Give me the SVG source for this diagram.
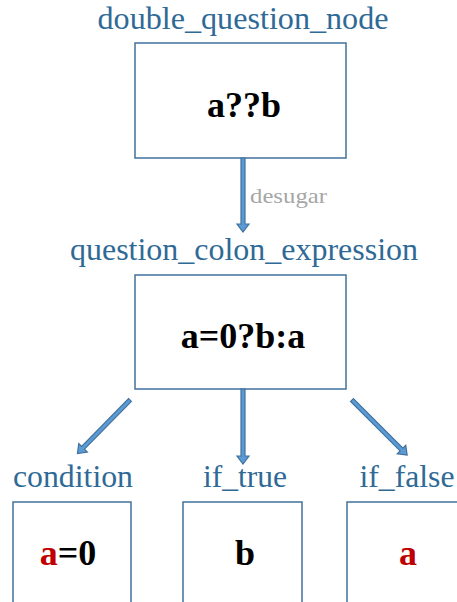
<svg xmlns="http://www.w3.org/2000/svg" width="457" height="602" viewBox="0 0 457 602">
<style>
text{font-family:'Liberation Serif',serif}
.title{font-size:32px;fill:#2f6a96;text-anchor:middle}
.code{font-size:36px;font-weight:bold;fill:#000;text-anchor:middle}
.red{fill:#c00000}
.box{fill:#fff;stroke:#41719c;stroke-width:1.5}
.arrow{fill:#5b9bd5;stroke:#41719c;stroke-width:1.2;stroke-linejoin:miter}
.lbl{font-size:21px;fill:#a6a6a6}
</style>
<rect width="457" height="602" fill="#fff"/>
<g id="double_question_node">
<text class="title" font-family="Liberation Serif" x="243" y="29" textLength="291" lengthAdjust="spacingAndGlyphs">double_question_node</text>
<rect class="box" x="135" y="43" width="211" height="115"/>
<text class="code" font-family="Liberation Serif" x="244" y="117">a??b</text>
</g>
<g id="question_colon_expression">
<text class="title" font-family="Liberation Serif" x="244" y="260" textLength="348" lengthAdjust="spacingAndGlyphs">question_colon_expression</text>
<rect class="box" x="135" y="275" width="211" height="114"/>
<text class="code" font-family="Liberation Serif" x="243" y="348">a=0?b:a</text>
</g>
<g id="condition">
<text class="title" font-family="Liberation Serif" x="73" y="487" textLength="120" lengthAdjust="spacingAndGlyphs">condition</text>
<rect class="box" x="13" y="502" width="118" height="130"/>
<text class="code" font-family="Liberation Serif" x="68" y="565"><tspan class="red">a</tspan>=0</text>
</g>
<g id="if_true">
<text class="title" font-family="Liberation Serif" x="245" y="487" textLength="84" lengthAdjust="spacingAndGlyphs">if_true</text>
<rect class="box" x="183" y="502" width="119" height="130"/>
<text class="code" font-family="Liberation Serif" x="245" y="565">b</text>
</g>
<g id="if_false">
<text class="title" font-family="Liberation Serif" x="407" y="487" textLength="95" lengthAdjust="spacingAndGlyphs">if_false</text>
<rect class="box" x="347" y="502" width="130" height="130"/>
<text class="code red" font-family="Liberation Serif" x="408" y="565">a</text>
</g>
<g id="connectors">
<polygon class="arrow" transform="translate(243,158) rotate(90)" points="0,-2 66,-2 66,-6 74,0 66,6 66,2 0,2"/>
<text class="lbl" font-family="Liberation Serif" x="250" y="203" textLength="77" lengthAdjust="spacingAndGlyphs">desugar</text>
<polygon class="arrow" transform="translate(243,389) rotate(90)" points="0,-2 67,-2 67,-6 75,0 67,6 67,2 0,2"/>
<polygon class="arrow" transform="translate(130,400) rotate(134.5)" points="0,-2 67,-2 67,-6 75,0 67,6 67,2 0,2"/>
<polygon class="arrow" transform="translate(352,400) rotate(45)" points="0,-2 70,-2 70,-6 78,0 70,6 70,2 0,2"/>
</g>
</svg>
